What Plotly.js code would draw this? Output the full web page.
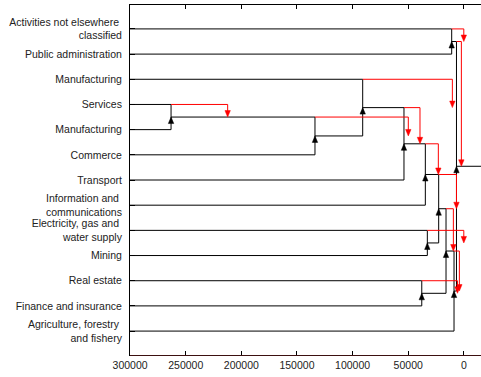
<!DOCTYPE html>
<html><head><meta charset="utf-8">
<script src="https://cdn.plot.ly/plotly-3.0.1.min.js"></script>
<style>html,body{margin:0;padding:0;background:#fff}#chart{width:481px;height:377px}</style>
</head><body><div id="chart"></div>
<script>
// Row labels (leaves), top to bottom
const categories = [
  "Activities not elsewhere\u00a0<br>classified",
  "Public administration",
  "Manufacturing",
  "Services",
  "Manufacturing",
  "Commerce",
  "Transport",
  "Information and\u00a0<br>communications",
  "Electricity, gas and\u00a0<br>water supply",
  "Mining",
  "Real estate",
  "Finance and insurance",
  "Agriculture, forestry\u00a0<br>and fishery"
];
// Merge k creates node 13+k from an upper child and a lower child
const mergeUpper  = [3, 13, 2, 15, 16, 8, 10, 17, 20, 0, 21, 22];
const mergeLower  = [4, 5, 14, 6, 7, 9, 11, 18, 19, 1, 12, 23];
const mergeHeight = [263200, 133800, 90900, 53800, 34600, 32800, 37800, 22600, 16000, 10900, 8800, 6600];
const redHeight   = [212300, 49900, 10300, 39400, 22900, 0, 5700, 6600, 9400, 0, 4000, 2200];
const xTickVals = [300000, 250000, 200000, 150000, 100000, 50000, 0];
const xTickText = ["300000", "250000", "200000", "150000", "100000", "50000", "0"];

// ---- layout constants ----
const W = 481, H = 377;
const M = {l: 130, r: 0, t: 5, b: 22};
const xRange = [300100, -15450];
const yRange = [12.95, -0.95];
const plotW = W - M.l - M.r, plotH = H - M.t - M.b;
const xPerPx = (xRange[0] - xRange[1]) / plotW;
const yPerPx = (yRange[0] - yRange[1]) / plotH;

const nLeaves = categories.length;
const nodeX = [], nodeY = [];
for (let i = 0; i < nLeaves; i++) { nodeX.push(xRange[0]); nodeY.push(i); }
for (let k = 0; k < mergeHeight.length; k++) {
  nodeX.push(mergeHeight[k]);
  nodeY.push((nodeY[mergeUpper[k]] + nodeY[mergeLower[k]]) / 2);
}

const bx = [], by = [], rx = [], ry = [], bax = [], bay = [], rax = [], ray = [];
const headLen = 6.5, headHalf = 2.7;
for (let k = 0; k < mergeHeight.length; k++) {
  const u = mergeUpper[k], l = mergeLower[k], h = mergeHeight[k], id = nLeaves + k;
  bx.push(nodeX[u], h, null, nodeX[l], h, null);
  by.push(nodeY[u], nodeY[u], null, nodeY[l], nodeY[l], null);
  bx.push(h, h, null); by.push(nodeY[u], nodeY[l], null);
  const ny = nodeY[id];
  bax.push(h, h - headHalf * xPerPx, h + headHalf * xPerPx, h, null);
  bay.push(ny, ny + headLen * yPerPx, ny + headLen * yPerPx, ny, null);
  const r = redHeight[k];
  rx.push(h, r, r, null);
  ry.push(nodeY[u], nodeY[u], ny - headLen * yPerPx * 0.5, null);
  rax.push(r, r - headHalf * xPerPx, r + headHalf * xPerPx, r, null);
  ray.push(ny, ny - headLen * yPerPx, ny - headLen * yPerPx, ny, null);
}
const root = nodeX.length - 1;
bx.push(nodeX[root], xRange[1] - 5000, null); by.push(nodeY[root], nodeY[root], null);

const traces = [
  {x: bx, y: by, mode: 'lines', line: {color: '#000', width: 1}, hoverinfo: 'skip'},
  {x: bax, y: bay, mode: 'lines', fill: 'toself', fillcolor: '#000', line: {color: '#000', width: 0.5}, hoverinfo: 'skip'},
  {x: rx, y: ry, mode: 'lines', line: {color: '#ff0000', width: 1}, hoverinfo: 'skip'},
  {x: rax, y: ray, mode: 'lines', fill: 'toself', fillcolor: '#ff0000', line: {color: '#ff0000', width: 0.5}, hoverinfo: 'skip'}
];

const layout = {
  width: W, height: H, margin: M, showlegend: false,
  paper_bgcolor: '#fff', plot_bgcolor: '#fff',
  font: {family: '"Liberation Sans", Arial, sans-serif', size: 10.5, color: '#222'},
  xaxis: {range: xRange, tickvals: xTickVals, ticktext: xTickText, ticks: 'inside', ticklen: 4,
          tickcolor: '#000', showline: true, linecolor: '#000', linewidth: 1, mirror: 'ticks',
          showgrid: false, zeroline: false},
  yaxis: {range: yRange, tickvals: categories.map((c, i) => i), ticktext: categories,
          ticks: 'inside', ticklen: 5, tickcolor: '#000', showline: true, linecolor: '#000',
          linewidth: 1, showgrid: false, zeroline: false, ticklabelstandoff: 5},
  shapes: [{type: 'line', xref: 'paper', yref: 'paper', x0: 0, x1: 1, y0: -0.5 / plotH, y1: -0.5 / plotH,
            line: {color: '#3c1010', width: 1}, layer: 'above'}]
};
Plotly.newPlot('chart', traces, layout, {staticPlot: true});
</script></body></html>
